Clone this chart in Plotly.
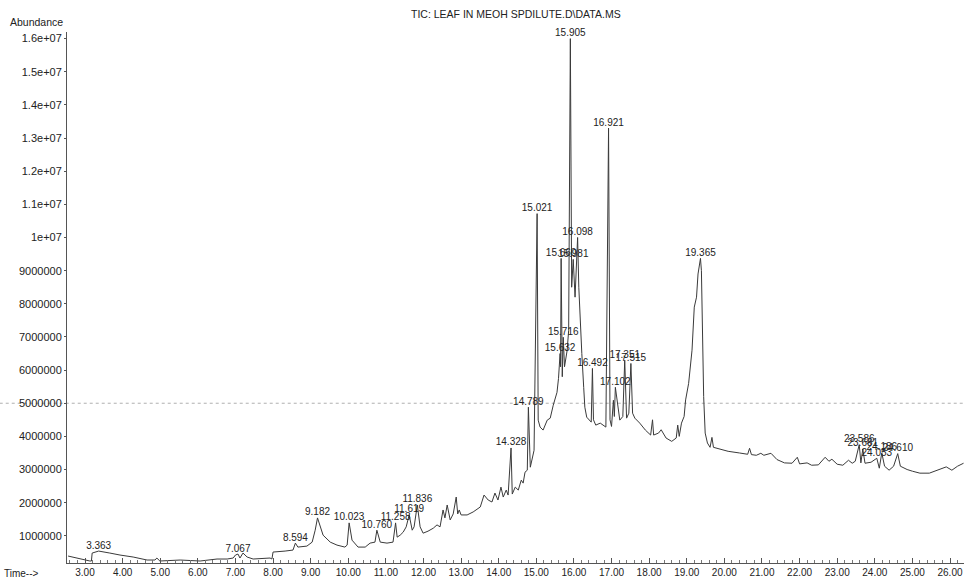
import numpy as np
import plotly.graph_objects as go

# ---- data ----
rt_min = [
    2.55, 2.87, 3.13, 3.17, 3.19, 3.363, 3.48, 3.66, 3.93, 4.28,
    4.65, 4.86, 4.91, 4.99, 5.53, 6.06, 6.51, 6.78, 6.94, 7.00,
    7.067, 7.12, 7.20, 7.31, 7.47, 7.92, 7.97, 8.00, 8.32, 8.53,
    8.594, 8.66, 8.90, 9.04, 9.12, 9.182, 9.33, 9.52, 9.70, 9.91,
    9.97, 10.023, 10.10, 10.26, 10.45, 10.58, 10.71, 10.760, 10.85, 11.03,
    11.19, 11.258, 11.30, 11.38, 11.46, 11.54, 11.619, 11.70, 11.75, 11.836,
    11.91, 11.99, 12.12, 12.26, 12.36, 12.44, 12.52, 12.57, 12.63, 12.71,
    12.79, 12.87, 12.91, 12.95, 13.00, 13.16, 13.32, 13.51, 13.61, 13.72,
    13.82, 13.90, 13.98, 14.06, 14.12, 14.20, 14.25, 14.328, 14.36, 14.44,
    14.52, 14.60, 14.65, 14.70, 14.76, 14.789, 14.84, 14.89, 14.94, 15.021,
    15.05, 15.10, 15.18, 15.29, 15.37, 15.45, 15.55, 15.59, 15.632, 15.645,
    15.660, 15.69, 15.716, 15.75, 15.82, 15.86, 15.905, 15.94, 15.981, 16.03,
    16.098, 16.13, 16.16, 16.21, 16.26, 16.29, 16.34, 16.46, 16.492, 16.52,
    16.58, 16.70, 16.85, 16.921, 16.96, 17.00, 17.05, 17.075, 17.102, 17.15,
    17.22, 17.30, 17.351, 17.40, 17.46, 17.515, 17.56, 17.62, 17.75, 17.90,
    18.04, 18.09, 18.12, 18.25, 18.32, 18.45, 18.60, 18.72, 18.76, 18.80,
    18.86, 18.93, 18.97, 19.05, 19.14, 19.20, 19.26, 19.30, 19.365, 19.39,
    19.42, 19.45, 19.49, 19.55, 19.62, 19.67, 19.71, 19.90, 20.10, 20.40,
    20.62, 20.67, 20.72, 20.85, 20.97, 21.05, 21.24, 21.40, 21.60, 21.80,
    21.94, 22.00, 22.20, 22.32, 22.50, 22.68, 22.78, 22.86, 23.00, 23.15,
    23.30, 23.40, 23.48, 23.586, 23.63, 23.681, 23.74, 23.90, 24.053, 24.12,
    24.186, 24.26, 24.38, 24.50, 24.610, 24.68, 24.86, 25.00, 25.20, 25.45,
    25.70, 25.90, 26.05, 26.20, 26.36,
]

abundance = [
    390000, 300000, 240000, 240000, 480000, 540000, 510000, 480000, 420000, 360000,
    270000, 270000, 330000, 240000, 270000, 240000, 300000, 300000, 330000, 420000,
    450000, 330000, 480000, 360000, 300000, 330000, 300000, 510000, 540000, 570000,
    780000, 660000, 690000, 810000, 1170000, 1540000, 1020000, 810000, 720000, 660000,
    720000, 1390000, 870000, 660000, 660000, 780000, 810000, 1170000, 810000, 780000,
    810000, 1390000, 960000, 1020000, 1110000, 1270000, 1630000, 1170000, 1270000, 1930000,
    1270000, 1080000, 1140000, 1230000, 1330000, 1270000, 1780000, 1540000, 1930000, 1480000,
    1660000, 2170000, 1660000, 1780000, 1630000, 1630000, 1720000, 1870000, 2230000, 2080000,
    2020000, 2290000, 2080000, 2470000, 2170000, 2380000, 2230000, 3650000, 2260000, 2470000,
    2380000, 2680000, 2590000, 2920000, 2980000, 4880000, 3070000, 3370000, 3580000, 10720000,
    4490000, 4280000, 4190000, 4490000, 4550000, 4940000, 5330000, 5750000, 6500000, 6100000,
    9370000, 5800000, 6990000, 6100000, 6600000, 7200000, 16000000, 8500000, 9340000, 8200000,
    10000000, 8500000, 7500000, 6500000, 5480000, 4880000, 4580000, 4430000, 6050000, 4500000,
    4340000, 4400000, 4280000, 13300000, 4500000, 4300000, 5090000, 4600000, 5480000, 5000000,
    4490000, 4600000, 6300000, 4550000, 4700000, 6200000, 4700000, 4550000, 4400000, 4190000,
    4040000, 4500000, 4040000, 4100000, 4200000, 3950000, 3850000, 3950000, 4340000, 4000000,
    4400000, 4600000, 5100000, 5600000, 6600000, 7900000, 8200000, 8900000, 9370000, 9000000,
    7200000, 5200000, 4100000, 3800000, 3670000, 3970000, 3670000, 3600000, 3550000, 3500000,
    3460000, 3640000, 3450000, 3430000, 3490000, 3430000, 3490000, 3300000, 3200000, 3190000,
    3370000, 3170000, 3200000, 3130000, 3140000, 3370000, 3250000, 3310000, 3160000, 3130000,
    3280000, 3190000, 3250000, 3750000, 3200000, 3620000, 3190000, 3220000, 3340000, 3040000,
    3500000, 3100000, 2980000, 3100000, 3480000, 3100000, 3000000, 2950000, 2890000, 2890000,
    3000000, 3080000, 2980000, 3100000, 3190000,
]

peak_labels = [
    "3.363", "7.067", "8.594", "9.182", "10.023", "10.760", "11.258", "11.619",
    "11.836", "14.328", "14.789", "15.021", "15.632", "15.660", "15.716", "15.905",
    "15.981", "16.098", "16.492", "16.921", "17.102", "17.351", "17.515", "19.365",
    "23.586", "23.681", "24.053", "24.186", "24.610",
]

x_tick_vals = [3, 4, 5, 6, 7, 8, 9, 10, 11, 12, 13, 14, 15, 16, 17, 18, 19, 20,
               21, 22, 23, 24, 25, 26]
y_tick_vals = [1000000, 2000000, 3000000, 4000000, 5000000, 6000000, 7000000,
               8000000, 9000000, 10000000, 11000000, 12000000, 13000000,
               14000000, 15000000, 16000000]
y_tick_text = ["1000000", "2000000", "3000000", "4000000", "5000000", "6000000",
               "7000000", "8000000", "9000000", "1e+07", "1.1e+07", "1.2e+07",
               "1.3e+07", "1.4e+07", "1.5e+07", "1.6e+07"]

title_text = "TIC: LEAF IN MEOH SPDILUTE.D\\DATA.MS"

# ---- figure ----
FONT = "Liberation Sans, Arial, sans-serif"
rt_arr = np.array(rt_min)
ab_arr = np.array(abundance)
peak_x = [float(s) for s in peak_labels]
peak_y = [float(ab_arr[np.argmin(np.abs(rt_arr - p))]) for p in peak_x]

fig = go.Figure()
fig.add_trace(go.Scatter(
    x=rt_min, y=abundance, mode="lines",
    line=dict(color="#3a3a3a", width=1),
    hoverinfo="x+y", showlegend=False,
))
fig.add_trace(go.Scatter(
    x=peak_x, y=peak_y, mode="text", text=peak_labels,
    textposition="top center",
    textfont=dict(family=FONT, size=10, color="#222222"),
    hoverinfo="skip", showlegend=False, cliponaxis=False,
))

fig.add_shape(type="line", xref="paper", yref="y", x0=-0.075, x1=1,
              y0=5000000, y1=5000000,
              line=dict(color="#b0b0b0", width=1, dash="dot"), layer="below")

fig.update_layout(
    width=964, height=580, autosize=False,
    margin=dict(l=67, r=0, t=32, b=17),
    paper_bgcolor="white", plot_bgcolor="white",
    font=dict(family=FONT, size=10, color="#222222"),
    xaxis=dict(
        range=[2.521, 26.372], showgrid=False, zeroline=False,
        showline=True, linecolor="#555555", linewidth=1,
        tickvals=x_tick_vals, tickformat=".2f",
        ticks="inside", ticklen=5, tickcolor="#555555",
        minor=dict(dtick=0.2, ticks="inside", ticklen=3, tickcolor="#777777"),
        tickfont=dict(family=FONT, size=10, color="#222222"),
    ),
    yaxis=dict(
        range=[180000, 16200000], showgrid=False, zeroline=False,
        showline=True, linecolor="#555555", linewidth=1,
        tickvals=y_tick_vals, ticktext=y_tick_text,
        ticks="outside", ticklen=2, tickcolor="#555555",
        tickfont=dict(family=FONT, size=11, color="#222222"),
    ),
    annotations=[
        dict(text=title_text, xref="paper", yref="paper", x=0.5, y=1,
             xanchor="center", yanchor="bottom", yshift=10, showarrow=False,
             font=dict(family=FONT, size=10.5, color="#222222")),
        dict(text="Abundance", xref="paper", yref="paper", x=0, y=1,
             xanchor="right", yanchor="bottom", xshift=-2, yshift=2,
             showarrow=False, font=dict(family=FONT, size=10.5, color="#222222")),
        dict(text="Time-->", xref="paper", yref="paper", x=0, y=0,
             xanchor="right", yanchor="top", xshift=-26, yshift=-3,
             showarrow=False, font=dict(family=FONT, size=10, color="#222222")),
    ],
)

fig.write_html(
    "out.html",
    config={"displayModeBar": False},
    post_script="document.body.style.margin='0';document.body.style.overflow='hidden';",
)
